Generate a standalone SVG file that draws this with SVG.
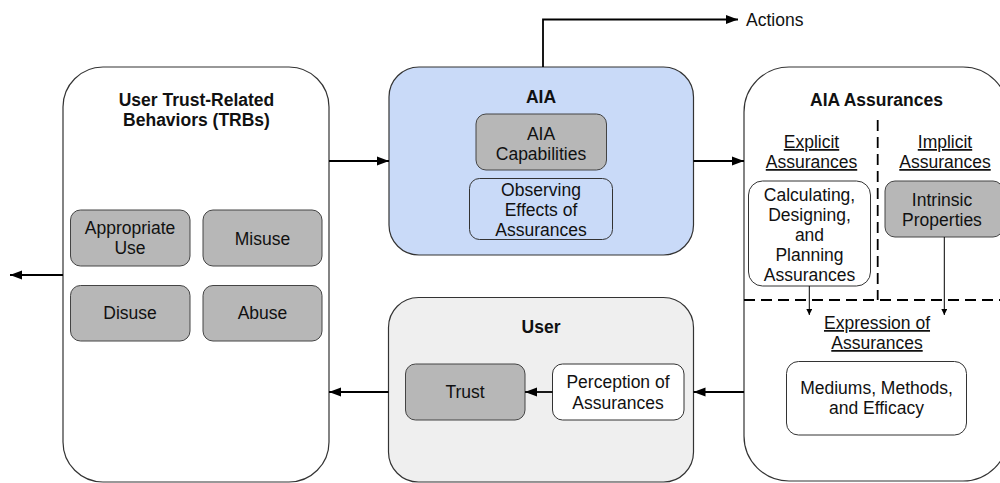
<svg xmlns="http://www.w3.org/2000/svg" width="1000" height="483" viewBox="0 0 1000 483">
<defs>
<marker id="ah" markerUnits="userSpaceOnUse" markerWidth="14" markerHeight="10" refX="12" refY="5" orient="auto"><path d="M0,0.5 L12,5 L0,9.5 Z" fill="#000"/></marker>
<marker id="sh" markerUnits="userSpaceOnUse" markerWidth="8" markerHeight="8" refX="6" refY="3" orient="auto"><path d="M0,0 L6,3 L0,6 Z" fill="#000"/></marker>
</defs>
<style>
text{font-family:"Liberation Sans",Arial,sans-serif;font-size:17.5px;fill:#111;text-anchor:middle}
.b{font-weight:bold}
.u{text-decoration:underline}
.outer{stroke:#333;stroke-width:1.2}
.gray{fill:#b7b7b7;stroke:#444;stroke-width:1}
.wht{fill:#fff;stroke:#333;stroke-width:1}
.conn{fill:none;stroke:#000;stroke-width:1.8}
.thin{fill:none;stroke:#000;stroke-width:1}
.dash{fill:none;stroke:#000;stroke-width:1.8;stroke-dasharray:11 6}
</style>
<g id="trb">
<rect class="outer" x="63" y="67" width="266" height="415" rx="40" fill="#fff"/>
<text class="b" x="196.5" y="106">User Trust-Related</text>
<text class="b" x="196.5" y="126">Behaviors (TRBs)</text>
</g>
<g id="appropriate-use"><rect class="gray" x="70.5" y="210" width="119.5" height="56" rx="10"/><text x="130" y="234">Appropriate</text><text x="130" y="254">Use</text></g>
<g id="misuse"><rect class="gray" x="203" y="210" width="119" height="56" rx="10"/><text x="262.5" y="245">Misuse</text></g>
<g id="disuse"><rect class="gray" x="70.5" y="285.5" width="119.5" height="55.5" rx="10"/><text x="130" y="319">Disuse</text></g>
<g id="abuse"><rect class="gray" x="203" y="285.5" width="119" height="55.5" rx="10"/><text x="262.5" y="319">Abuse</text></g>
<g id="aia">
<rect class="outer" x="389" y="67" width="304.5" height="188" rx="30" fill="#c9daf8"/>
<text class="b" x="541" y="103">AIA</text>
</g>
<g id="aia-capabilities"><rect class="gray" x="476" y="114" width="130.5" height="56" rx="10"/><text x="541" y="140">AIA</text><text x="541" y="160">Capabilities</text></g>
<g id="observing"><rect x="469.5" y="178.5" width="143" height="61" rx="10" fill="#c9daf8" stroke="#333" stroke-width="1"/><text x="541" y="196">Observing</text><text x="541" y="216">Effects of</text><text x="541" y="236">Assurances</text></g>
<g id="actions"><text x="746" y="26" style="text-anchor:start">Actions</text></g>
<g id="assurances">
<rect class="outer" x="744" y="67" width="264" height="414" rx="45" fill="#fff"/>
<text class="b" x="876.5" y="106">AIA Assurances</text>
<text class="u" x="811.5" y="148">Explicit</text><text class="u" x="811.5" y="168">Assurances</text>
<text class="u" x="945" y="148">Implicit</text><text class="u" x="945" y="168">Assurances</text>
<path class="dash" d="M877.7,120 V300"/>
<path class="dash" d="M744,300 H1000"/>
<text class="u" x="877" y="329">Expression of</text><text class="u" x="877" y="349">Assurances</text>
</g>
<g id="calculating"><rect class="wht" x="748.5" y="181" width="122" height="105" rx="14"/><text x="809.5" y="201">Calculating,</text><text x="809.5" y="221">Designing,</text><text x="809.5" y="241">and</text><text x="809.5" y="261">Planning</text><text x="809.5" y="281">Assurances</text></g>
<g id="intrinsic"><rect class="gray" x="885" y="181" width="118" height="56" rx="10"/><text x="942" y="206">Intrinsic</text><text x="942" y="226">Properties</text></g>
<g id="mediums"><rect class="wht" x="786.5" y="361.5" width="180" height="73.5" rx="12"/><text x="876.5" y="394">Mediums, Methods,</text><text x="876.5" y="414">and Efficacy</text></g>
<g id="user">
<rect class="outer" x="388.5" y="297.5" width="305" height="184.5" rx="30" fill="#efefef"/>
<text class="b" x="541" y="333">User</text>
</g>
<g id="trust"><rect class="gray" x="405.5" y="364" width="119.5" height="56" rx="10"/><text x="465" y="398">Trust</text></g>
<g id="perception"><rect class="wht" x="552.5" y="364" width="131.5" height="56" rx="10"/><text x="618" y="388">Perception of</text><text x="618" y="409">Assurances</text></g>
<g id="connectors">
<path class="conn" d="M329,161 H389" marker-end="url(#ah)"/>
<path class="conn" d="M693.5,161 H744" marker-end="url(#ah)"/>
<path class="conn" d="M543,67 V19.5 H738" marker-end="url(#ah)"/>
<path class="conn" d="M63,275 H10" marker-end="url(#ah)"/>
<path class="conn" d="M744,392 H693.5" marker-end="url(#ah)"/>
<path class="conn" d="M552.5,392 H525" marker-end="url(#ah)"/>
<path class="conn" d="M388.5,392 H329" marker-end="url(#ah)"/>
<path class="thin" d="M809.3,286 V315" marker-end="url(#sh)"/>
<path class="thin" d="M944.3,237 V315" marker-end="url(#sh)"/>
</g>
</svg>
